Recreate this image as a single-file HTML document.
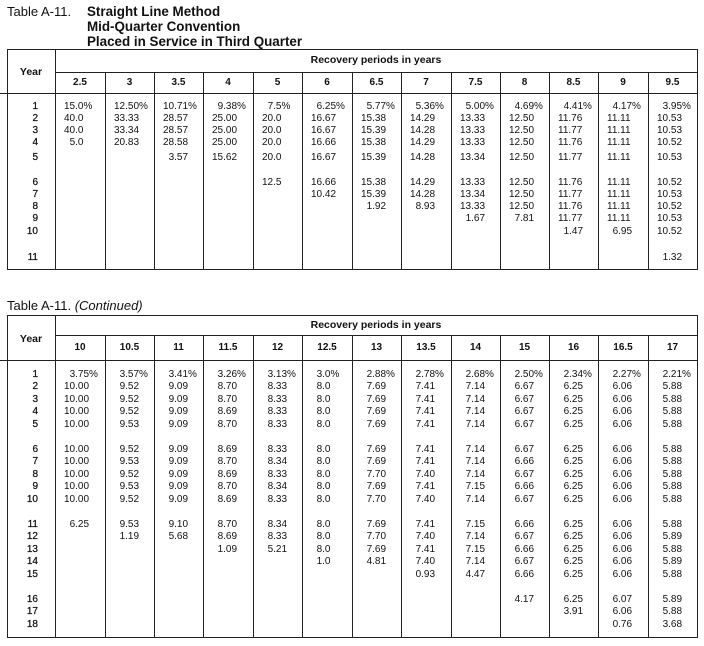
<!DOCTYPE html>
<html><head><meta charset="utf-8"><style>
*{box-sizing:border-box}
body{margin:0;width:704px;height:646px;background:#fff;position:relative;overflow:hidden;font-family:"Liberation Sans",Arial,sans-serif;color:#111}
.a{position:absolute;white-space:nowrap}
.h{position:absolute;background:#222;height:1px}
.v{position:absolute;background:#222;width:1px}
.t{font-size:13px;line-height:15px}
.tb{font-size:13.4px;line-height:15px;font-weight:bold}
.g{position:absolute;left:0;width:704px;display:grid;grid-template-columns:55px 50px 49px 49px 50px 49px 50px 49px 50px 49px 49px 49px 50px 49px;white-space:nowrap}
.r{height:12px;line-height:12px;font-size:10px}
.r span{padding-left:9px}
.r span:first-child{text-align:right;padding:0 17px 0 0;-webkit-text-stroke:0.25px #111}
.c span{text-align:center;font-weight:bold;font-size:10px}
.rp{font-weight:bold;font-size:10.5px;text-align:center}
.yr{font-weight:bold;font-size:10.5px;text-align:center}
u{visibility:hidden;text-decoration:none}
</style></head><body>

<!-- Title 1 -->
<div class="a t" style="left:7px;top:4px">Table A-11.</div>
<div class="a tb" style="left:87px;top:4px">Straight Line Method<br>Mid-Quarter Convention<br>Placed in Service in Third Quarter</div>

<!-- Table 1 lines -->
<div class="h" style="left:7px;top:49px;width:691px"></div>
<div class="h" style="left:55px;top:72px;width:643px"></div>
<div class="h" style="left:0;top:93px;width:698px"></div>
<div class="h" style="left:7px;top:269px;width:691px"></div>
<div class="v" style="left:7px;top:49px;height:221px"></div>
<div class="v" style="left:55px;top:49px;height:221px"></div>
<div class="v" style="left:697px;top:49px;height:221px"></div>
<div class="v" style="left:105px;top:72px;height:198px"></div>
<div class="v" style="left:154px;top:72px;height:198px"></div>
<div class="v" style="left:203px;top:72px;height:198px"></div>
<div class="v" style="left:253px;top:72px;height:198px"></div>
<div class="v" style="left:302px;top:72px;height:198px"></div>
<div class="v" style="left:352px;top:72px;height:198px"></div>
<div class="v" style="left:401px;top:72px;height:198px"></div>
<div class="v" style="left:451px;top:72px;height:198px"></div>
<div class="v" style="left:500px;top:72px;height:198px"></div>
<div class="v" style="left:549px;top:72px;height:198px"></div>
<div class="v" style="left:598px;top:72px;height:198px"></div>
<div class="v" style="left:648px;top:72px;height:198px"></div>

<!-- Table 1 headers -->
<div class="a yr" style="left:7px;width:48px;top:49px;height:44px;line-height:47px">Year</div>
<div class="a rp" style="left:55px;width:642px;top:49px;height:23px;line-height:23px">Recovery periods in years</div>
<div class="g c" style="top:72px;height:21px;line-height:22px"><span></span><span>2.5</span><span>3</span><span>3.5</span><span>4</span><span>5</span><span>6</span><span>6.5</span><span>7</span><span>7.5</span><span>8</span><span>8.5</span><span>9</span><span>9.5</span></div>

<!-- Table 1 rows -->
<div class="g r" style="top:100.5px"><span>1</span><span>15.0%</span><span>12.50%</span><span>10.71%</span><span><u>0</u>9.38%</span><span><u>0</u>7.5%</span><span><u>0</u>6.25%</span><span><u>0</u>5.77%</span><span><u>0</u>5.36%</span><span><u>0</u>5.00%</span><span><u>0</u>4.69%</span><span><u>0</u>4.41%</span><span><u>0</u>4.17%</span><span><u>0</u>3.95%</span></div>
<div class="g r" style="top:112.5px"><span>2</span><span>40.0</span><span>33.33</span><span>28.57</span><span>25.00</span><span>20.0</span><span>16.67</span><span>15.38</span><span>14.29</span><span>13.33</span><span>12.50</span><span>11.76</span><span>11.11</span><span>10.53</span></div>
<div class="g r" style="top:124.5px"><span>3</span><span>40.0</span><span>33.34</span><span>28.57</span><span>25.00</span><span>20.0</span><span>16.67</span><span>15.39</span><span>14.28</span><span>13.33</span><span>12.50</span><span>11.77</span><span>11.11</span><span>10.53</span></div>
<div class="g r" style="top:136.5px"><span>4</span><span><u>0</u>5.0</span><span>20.83</span><span>28.58</span><span>25.00</span><span>20.0</span><span>16.66</span><span>15.38</span><span>14.29</span><span>13.33</span><span>12.50</span><span>11.76</span><span>11.11</span><span>10.52</span></div>
<div class="g r" style="top:151.5px"><span>5</span><span style="grid-column:4"><u>0</u>3.57</span><span>15.62</span><span>20.0</span><span>16.67</span><span>15.39</span><span>14.28</span><span>13.34</span><span>12.50</span><span>11.77</span><span>11.11</span><span>10.53</span></div>
<div class="g r" style="top:176.5px"><span>6</span><span style="grid-column:6">12.5</span><span>16.66</span><span>15.38</span><span>14.29</span><span>13.33</span><span>12.50</span><span>11.76</span><span>11.11</span><span>10.52</span></div>
<div class="g r" style="top:189px"><span>7</span><span style="grid-column:7">10.42</span><span>15.39</span><span>14.28</span><span>13.34</span><span>12.50</span><span>11.77</span><span>11.11</span><span>10.53</span></div>
<div class="g r" style="top:201px"><span>8</span><span style="grid-column:8"><u>0</u>1.92</span><span><u>0</u>8.93</span><span>13.33</span><span>12.50</span><span>11.76</span><span>11.11</span><span>10.52</span></div>
<div class="g r" style="top:213px"><span>9</span><span style="grid-column:10"><u>0</u>1.67</span><span><u>0</u>7.81</span><span>11.77</span><span>11.11</span><span>10.53</span></div>
<div class="g r" style="top:225.5px"><span>10</span><span style="grid-column:12"><u>0</u>1.47</span><span><u>0</u>6.95</span><span>10.52</span></div>
<div class="g r" style="top:251.5px"><span>11</span><span style="grid-column:14"><u>0</u>1.32</span></div>

<!-- Title 2 -->
<div class="a t" style="left:7px;top:298px">Table A-11. <i>(Continued)</i></div>

<!-- Table 2 lines -->
<div class="h" style="left:7px;top:315px;width:691px"></div>
<div class="h" style="left:55px;top:335px;width:643px"></div>
<div class="h" style="left:0;top:360px;width:698px"></div>
<div class="h" style="left:7px;top:637px;width:691px"></div>
<div class="v" style="left:7px;top:315px;height:323px"></div>
<div class="v" style="left:55px;top:315px;height:323px"></div>
<div class="v" style="left:697px;top:315px;height:323px"></div>
<div class="v" style="left:105px;top:335px;height:303px"></div>
<div class="v" style="left:154px;top:335px;height:303px"></div>
<div class="v" style="left:203px;top:335px;height:303px"></div>
<div class="v" style="left:253px;top:335px;height:303px"></div>
<div class="v" style="left:302px;top:335px;height:303px"></div>
<div class="v" style="left:352px;top:335px;height:303px"></div>
<div class="v" style="left:401px;top:335px;height:303px"></div>
<div class="v" style="left:451px;top:335px;height:303px"></div>
<div class="v" style="left:500px;top:335px;height:303px"></div>
<div class="v" style="left:549px;top:335px;height:303px"></div>
<div class="v" style="left:598px;top:335px;height:303px"></div>
<div class="v" style="left:648px;top:335px;height:303px"></div>

<!-- Table 2 headers -->
<div class="a yr" style="left:7px;width:48px;top:315px;height:45px;line-height:48px">Year</div>
<div class="a rp" style="left:55px;width:642px;top:315px;height:20px;line-height:21px">Recovery periods in years</div>
<div class="g c" style="top:335px;height:25px;line-height:25px"><span></span><span>10</span><span>10.5</span><span>11</span><span>11.5</span><span>12</span><span>12.5</span><span>13</span><span>13.5</span><span>14</span><span>15</span><span>16</span><span>16.5</span><span>17</span></div>

<!-- Table 2 rows -->
<div class="g r" style="top:368.5px"><span>1</span><span><u>0</u>3.75%</span><span><u>0</u>3.57%</span><span><u>0</u>3.41%</span><span><u>0</u>3.26%</span><span><u>0</u>3.13%</span><span><u>0</u>3.0%</span><span><u>0</u>2.88%</span><span><u>0</u>2.78%</span><span><u>0</u>2.68%</span><span><u>0</u>2.50%</span><span><u>0</u>2.34%</span><span><u>0</u>2.27%</span><span><u>0</u>2.21%</span></div>
<div class="g r" style="top:381px"><span>2</span><span>10.00</span><span><u>0</u>9.52</span><span><u>0</u>9.09</span><span><u>0</u>8.70</span><span><u>0</u>8.33</span><span><u>0</u>8.0</span><span><u>0</u>7.69</span><span><u>0</u>7.41</span><span><u>0</u>7.14</span><span><u>0</u>6.67</span><span><u>0</u>6.25</span><span><u>0</u>6.06</span><span><u>0</u>5.88</span></div>
<div class="g r" style="top:393.5px"><span>3</span><span>10.00</span><span><u>0</u>9.52</span><span><u>0</u>9.09</span><span><u>0</u>8.70</span><span><u>0</u>8.33</span><span><u>0</u>8.0</span><span><u>0</u>7.69</span><span><u>0</u>7.41</span><span><u>0</u>7.14</span><span><u>0</u>6.67</span><span><u>0</u>6.25</span><span><u>0</u>6.06</span><span><u>0</u>5.88</span></div>
<div class="g r" style="top:406px"><span>4</span><span>10.00</span><span><u>0</u>9.52</span><span><u>0</u>9.09</span><span><u>0</u>8.69</span><span><u>0</u>8.33</span><span><u>0</u>8.0</span><span><u>0</u>7.69</span><span><u>0</u>7.41</span><span><u>0</u>7.14</span><span><u>0</u>6.67</span><span><u>0</u>6.25</span><span><u>0</u>6.06</span><span><u>0</u>5.88</span></div>
<div class="g r" style="top:418.5px"><span>5</span><span>10.00</span><span><u>0</u>9.53</span><span><u>0</u>9.09</span><span><u>0</u>8.70</span><span><u>0</u>8.33</span><span><u>0</u>8.0</span><span><u>0</u>7.69</span><span><u>0</u>7.41</span><span><u>0</u>7.14</span><span><u>0</u>6.67</span><span><u>0</u>6.25</span><span><u>0</u>6.06</span><span><u>0</u>5.88</span></div>
<div class="g r" style="top:443.5px"><span>6</span><span>10.00</span><span><u>0</u>9.52</span><span><u>0</u>9.09</span><span><u>0</u>8.69</span><span><u>0</u>8.33</span><span><u>0</u>8.0</span><span><u>0</u>7.69</span><span><u>0</u>7.41</span><span><u>0</u>7.14</span><span><u>0</u>6.67</span><span><u>0</u>6.25</span><span><u>0</u>6.06</span><span><u>0</u>5.88</span></div>
<div class="g r" style="top:456px"><span>7</span><span>10.00</span><span><u>0</u>9.53</span><span><u>0</u>9.09</span><span><u>0</u>8.70</span><span><u>0</u>8.34</span><span><u>0</u>8.0</span><span><u>0</u>7.69</span><span><u>0</u>7.41</span><span><u>0</u>7.14</span><span><u>0</u>6.66</span><span><u>0</u>6.25</span><span><u>0</u>6.06</span><span><u>0</u>5.88</span></div>
<div class="g r" style="top:468.5px"><span>8</span><span>10.00</span><span><u>0</u>9.52</span><span><u>0</u>9.09</span><span><u>0</u>8.69</span><span><u>0</u>8.33</span><span><u>0</u>8.0</span><span><u>0</u>7.70</span><span><u>0</u>7.40</span><span><u>0</u>7.14</span><span><u>0</u>6.67</span><span><u>0</u>6.25</span><span><u>0</u>6.06</span><span><u>0</u>5.88</span></div>
<div class="g r" style="top:481px"><span>9</span><span>10.00</span><span><u>0</u>9.53</span><span><u>0</u>9.09</span><span><u>0</u>8.70</span><span><u>0</u>8.34</span><span><u>0</u>8.0</span><span><u>0</u>7.69</span><span><u>0</u>7.41</span><span><u>0</u>7.15</span><span><u>0</u>6.66</span><span><u>0</u>6.25</span><span><u>0</u>6.06</span><span><u>0</u>5.88</span></div>
<div class="g r" style="top:493.5px"><span>10</span><span>10.00</span><span><u>0</u>9.52</span><span><u>0</u>9.09</span><span><u>0</u>8.69</span><span><u>0</u>8.33</span><span><u>0</u>8.0</span><span><u>0</u>7.70</span><span><u>0</u>7.40</span><span><u>0</u>7.14</span><span><u>0</u>6.67</span><span><u>0</u>6.25</span><span><u>0</u>6.06</span><span><u>0</u>5.88</span></div>
<div class="g r" style="top:518.5px"><span>11</span><span><u>0</u>6.25</span><span><u>0</u>9.53</span><span><u>0</u>9.10</span><span><u>0</u>8.70</span><span><u>0</u>8.34</span><span><u>0</u>8.0</span><span><u>0</u>7.69</span><span><u>0</u>7.41</span><span><u>0</u>7.15</span><span><u>0</u>6.66</span><span><u>0</u>6.25</span><span><u>0</u>6.06</span><span><u>0</u>5.88</span></div>
<div class="g r" style="top:531px"><span>12</span><span style="grid-column:3"><u>0</u>1.19</span><span><u>0</u>5.68</span><span><u>0</u>8.69</span><span><u>0</u>8.33</span><span><u>0</u>8.0</span><span><u>0</u>7.70</span><span><u>0</u>7.40</span><span><u>0</u>7.14</span><span><u>0</u>6.67</span><span><u>0</u>6.25</span><span><u>0</u>6.06</span><span><u>0</u>5.89</span></div>
<div class="g r" style="top:543.5px"><span>13</span><span style="grid-column:5"><u>0</u>1.09</span><span><u>0</u>5.21</span><span><u>0</u>8.0</span><span><u>0</u>7.69</span><span><u>0</u>7.41</span><span><u>0</u>7.15</span><span><u>0</u>6.66</span><span><u>0</u>6.25</span><span><u>0</u>6.06</span><span><u>0</u>5.88</span></div>
<div class="g r" style="top:556px"><span>14</span><span style="grid-column:7"><u>0</u>1.0</span><span><u>0</u>4.81</span><span><u>0</u>7.40</span><span><u>0</u>7.14</span><span><u>0</u>6.67</span><span><u>0</u>6.25</span><span><u>0</u>6.06</span><span><u>0</u>5.89</span></div>
<div class="g r" style="top:568.5px"><span>15</span><span style="grid-column:9"><u>0</u>0.93</span><span><u>0</u>4.47</span><span><u>0</u>6.66</span><span><u>0</u>6.25</span><span><u>0</u>6.06</span><span><u>0</u>5.88</span></div>
<div class="g r" style="top:593.5px"><span>16</span><span style="grid-column:11"><u>0</u>4.17</span><span><u>0</u>6.25</span><span><u>0</u>6.07</span><span><u>0</u>5.89</span></div>
<div class="g r" style="top:606px"><span>17</span><span style="grid-column:12"><u>0</u>3.91</span><span><u>0</u>6.06</span><span><u>0</u>5.88</span></div>
<div class="g r" style="top:618.5px"><span>18</span><span style="grid-column:13"><u>0</u>0.76</span><span><u>0</u>3.68</span></div>

</body></html>
